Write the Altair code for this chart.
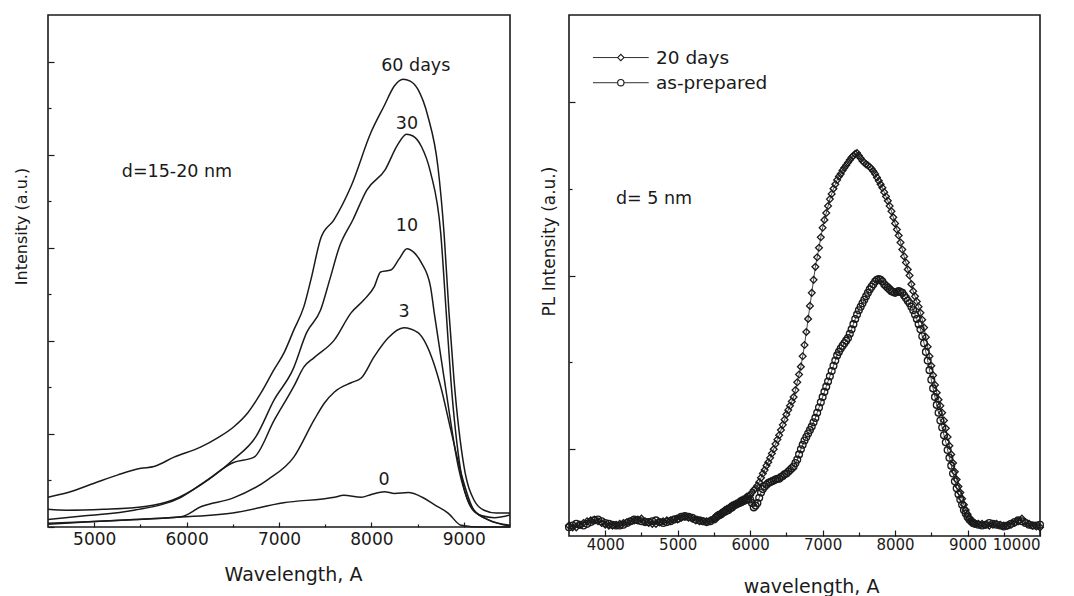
import altair as alt
import pandas as pd

# ---------------- Left panel (d = 15-20 nm) ----------------
d60_wl = [4500, 4716, 5000, 5258, 5506, 5647, 5864, 6156, 6340, 6515, 6665, 6805, 6946, 7054, 7162, 7270, 7346,
          7455, 7595, 7780, 7996, 8136, 8250, 8342, 8420, 8504, 8612, 8720, 8786, 8840, 8894, 9002, 9110, 9219, 9350, 9500]
d60_val = [0.32, 0.37, 0.47, 0.56, 0.63, 0.65, 0.75, 0.86, 0.96, 1.08, 1.23, 1.44, 1.69, 1.87, 2.12, 2.37, 2.66,
           3.11, 3.30, 3.66, 4.24, 4.52, 4.74, 4.81, 4.79, 4.70, 4.41, 3.87, 3.16, 2.30, 1.58, 0.65, 0.29, 0.18, 0.15, 0.15]

d30_wl = [4500, 4700, 5100, 5550, 5850, 6150, 6500, 6750, 6950, 7150, 7300, 7450, 7550, 7650, 7800, 7950, 8150,
          8280, 8380, 8450, 8540, 8640, 8750, 8810, 8860, 8970, 9100, 9200, 9330, 9500]
d30_val = [0.19, 0.18, 0.19, 0.22, 0.29, 0.45, 0.72, 0.97, 1.37, 1.69, 2.09, 2.33, 2.66, 3.00, 3.30, 3.62, 3.84,
           4.10, 4.22, 4.20, 4.09, 3.81, 3.16, 2.30, 1.58, 0.58, 0.18, 0.12, 0.10, 0.13]

d10_wl = [4500, 4900, 5430, 5940, 6230, 6500, 6730, 6950, 7160, 7270, 7380, 7600, 7780, 7920, 8030, 8100, 8210,
          8300, 8385, 8460, 8540, 8640, 8680, 8790, 8940, 9080, 9260, 9500]
d10_val = [0.08, 0.12, 0.18, 0.32, 0.51, 0.69, 0.75, 1.15, 1.51, 1.72, 1.82, 2.01, 2.30, 2.44, 2.58, 2.74, 2.76,
           2.88, 2.99, 2.95, 2.84, 2.58, 2.30, 1.58, 0.65, 0.22, 0.08, 0.02]

d3_wl = [4500, 5000, 5430, 5940, 6160, 6500, 6880, 7160, 7380, 7490, 7600, 7780, 7890, 8030, 8180, 8350, 8500,
         8650, 8750, 8860, 8970, 9110, 9260, 9500]
d3_val = [0.03, 0.06, 0.08, 0.11, 0.22, 0.31, 0.51, 0.75, 1.15, 1.33, 1.45, 1.55, 1.60, 1.83, 2.03, 2.14, 2.09,
          1.83, 1.51, 1.04, 0.58, 0.18, 0.08, 0.01]

d0_wl = [4500, 5000, 5800, 6500, 7050, 7600, 7700, 7890, 8000, 8140, 8250, 8400, 8550, 8680, 8830, 8970, 9200, 9500]
d0_val = [0.04, 0.06, 0.10, 0.15, 0.26, 0.32, 0.34, 0.32, 0.35, 0.38, 0.36, 0.37, 0.32, 0.24, 0.15, 0.02, 0.0, 0.0]

left_series = [("60 days", d60_wl, d60_val), ("30", d30_wl, d30_val), ("10", d10_wl, d10_val),
               ("3", d3_wl, d3_val), ("0", d0_wl, d0_val)]

left_labels = ["60 days", "30", "10", "3", "0", "d=15-20 nm"]
left_label_wl = [8480, 8385, 8385, 8353, 8136, 5896]
left_label_val = [4.95, 4.33, 3.23, 2.31, 0.51, 3.81]

# ---------------- Right panel (d = 5 nm) ----------------
wl_flat_left = list(range(3500, 5500, 50))
wl_active = list(range(5500, 9100, 25))
wl_flat_right = list(range(9100, 10001, 50))

days20_flat_left = [0.12, 0.10, 0.10, 0.13, 0.15, 0.17, 0.18, 0.19, 0.17, 0.15, 0.13, 0.12, 0.12, 0.13, 0.14, 0.15,
                    0.16, 0.17, 0.18, 0.19, 0.20, 0.17, 0.15, 0.14, 0.14, 0.16, 0.17, 0.18, 0.18, 0.19, 0.19, 0.21,
                    0.22, 0.21, 0.20, 0.18, 0.17, 0.17, 0.17, 0.18]
days20_active = [
    0.20, 0.22, 0.24, 0.25,  0.26, 0.28, 0.30, 0.31,  0.32, 0.34, 0.35, 0.36,  0.37, 0.38, 0.40, 0.41,
    0.42, 0.43, 0.45, 0.46,  0.47, 0.50, 0.53, 0.55,  0.58, 0.62, 0.67, 0.72,  0.76, 0.81, 0.85, 0.90,
    0.95, 1.00, 1.06, 1.11,  1.16, 1.22, 1.28, 1.34,  1.40, 1.45, 1.50, 1.55,  1.60, 1.68, 1.77, 1.86,
    1.95, 2.07, 2.20, 2.35,  2.50, 2.65, 2.80, 2.95,  3.10, 3.21, 3.32, 3.44,  3.55, 3.64, 3.72, 3.80,
    3.88, 3.94, 4.00, 4.05,  4.10, 4.14, 4.17, 4.21,  4.24, 4.27, 4.30, 4.33,  4.36, 4.38, 4.40, 4.41,
    4.38, 4.35, 4.32, 4.30,  4.28, 4.27, 4.25, 4.23,  4.20, 4.17, 4.13, 4.09,  4.05, 4.01, 3.96, 3.91,
    3.86, 3.80, 3.74, 3.67,  3.60, 3.53, 3.46, 3.38,  3.30, 3.22, 3.15, 3.07,  3.00, 2.90, 2.82, 2.76,
    2.70, 2.64, 2.57, 2.49,  2.40, 2.29, 2.18, 2.07,  1.96, 1.85, 1.74, 1.65,  1.57, 1.50, 1.42, 1.33,
    1.24, 1.14, 1.04, 0.94,  0.84, 0.74, 0.65, 0.57,  0.50, 0.43, 0.36, 0.30,  0.25, 0.21, 0.18, 0.16]
days20_flat_right = [0.15, 0.14, 0.14, 0.13, 0.12, 0.13, 0.14, 0.13, 0.12, 0.12, 0.13, 0.15, 0.17, 0.20, 0.16,
                     0.14, 0.12, 0.11, 0.10]

prep_flat_left = [0.10, 0.12, 0.14, 0.13, 0.12, 0.14, 0.16, 0.18, 0.19, 0.17, 0.15, 0.14, 0.13, 0.12, 0.12, 0.13,
                  0.15, 0.17, 0.19, 0.18, 0.17, 0.16, 0.16, 0.17, 0.18, 0.16, 0.15, 0.16, 0.17, 0.19, 0.20, 0.22,
                  0.23, 0.22, 0.21, 0.19, 0.18, 0.17, 0.16, 0.17]
prep_active = [
    0.19, 0.21, 0.23, 0.24,  0.25, 0.27, 0.28, 0.29,  0.30, 0.32, 0.33, 0.35,  0.36, 0.37, 0.38, 0.39,
    0.40, 0.41, 0.42, 0.42,  0.42, 0.38, 0.33, 0.35,  0.38, 0.44, 0.50, 0.54,  0.57, 0.59, 0.61, 0.62,
    0.63, 0.64, 0.65, 0.66,  0.66, 0.68, 0.69, 0.71,  0.72, 0.74, 0.76, 0.78,  0.80, 0.84, 0.88, 0.94,
    1.00, 1.05, 1.10, 1.14,  1.18, 1.22, 1.26, 1.31,  1.36, 1.42, 1.48, 1.54,  1.60, 1.66, 1.72, 1.78,
    1.84, 1.90, 1.96, 2.02,  2.08, 2.12, 2.16, 2.19,  2.22, 2.25, 2.28, 2.33,  2.38, 2.44, 2.50, 2.55,
    2.60, 2.64, 2.68, 2.72,  2.76, 2.80, 2.84, 2.87,  2.90, 2.93, 2.95, 2.96,  2.95, 2.93, 2.90, 2.88,
    2.86, 2.84, 2.82, 2.81,  2.80, 2.81, 2.82, 2.81,  2.80, 2.77, 2.74, 2.71,  2.68, 2.64, 2.60, 2.55,
    2.50, 2.44, 2.38, 2.30,  2.22, 2.12, 2.02, 1.91,  1.80, 1.70, 1.60, 1.51,  1.42, 1.33, 1.25, 1.16,
    1.08, 0.99, 0.90, 0.81,  0.72, 0.63, 0.55, 0.48,  0.42, 0.36, 0.30, 0.26,  0.22, 0.19, 0.17, 0.15]
prep_flat_right = [0.14, 0.13, 0.12, 0.13, 0.15, 0.14, 0.13, 0.12, 0.11, 0.12, 0.14, 0.16, 0.18, 0.17, 0.15,
                   0.13, 0.12, 0.12, 0.13]

legend_labels = ["20 days", "as-prepared"]
legend_shapes = ["diamond", "circle"]
right_note = ["d= 5 nm"]

# ---------------- Build tables ----------------
rows = []
for name, wls, vals in left_series:
    for w, v in zip(wls, vals):
        rows.append({"wl": w, "val": v, "series": name})
df_left = pd.DataFrame(rows)
df_left_lab = pd.DataFrame({"wl": left_label_wl, "val": left_label_val, "label": left_labels})

wl_right = wl_flat_left + wl_active + wl_flat_right
df_right = pd.concat([
    pd.DataFrame({"wl": wl_right, "val": days20_flat_left + days20_active + days20_flat_right, "series": "20 days"}),
    pd.DataFrame({"wl": wl_right, "val": prep_flat_left + prep_active + prep_flat_right, "series": "as-prepared"}),
])

# legend / note placement (layout, in data units)
df_leg = pd.DataFrame({
    "label": legend_labels, "shape": legend_shapes,
    "x1": [3830, 3830], "x2": [4600, 4600], "xm": [4215, 4215], "xt": [4700, 4700], "y": [5.51, 5.22]})
df_note = pd.DataFrame({"label": right_note, "wl": [4673], "val": [3.88]})

INK = "#1a1a1a"
FONT = "DejaVu Sans"

# ---------------- Left chart ----------------
xsL = alt.Scale(domain=[4500, 9500], nice=False, zero=False)
ysL = alt.Scale(domain=[0, 5.5], nice=False, zero=False)

axLx = alt.Axis(orient="bottom", values=[5000, 6000, 7000, 8000, 9000], format="d", tickSize=5, offset=-5,
                labelPadding=4, labelFontSize=17, title="Wavelength, A", titleFontSize=19,
                titleX=245, titleY=52, titleBaseline="middle", titleFontWeight="normal", grid=False)
axLx_minor = alt.Axis(orient="bottom", values=[5500, 6500, 7500, 8500], tickSize=3, offset=-3,
                      labels=False, title=None, grid=False)
axLy = alt.Axis(orient="left", values=[0, 1, 2, 3, 4, 5], tickSize=6, offset=-6, labels=False,
                title="Intensity (a.u.)", titleFontSize=16, titleX=-33, titleY=211,
                titleBaseline="middle", titleFontWeight="normal", grid=False)
axLy_minor = alt.Axis(orient="left", values=[0.5, 1.5, 2.5, 3.5, 4.5], tickSize=3, offset=-3,
                      labels=False, title=None, grid=False)

left_lines = alt.Chart(df_left).mark_line(color=INK, strokeWidth=1.5, interpolate="monotone").encode(
    x=alt.X("wl:Q", scale=xsL, axis=axLx),
    y=alt.Y("val:Q", scale=ysL, axis=axLy),
    detail="series:N",
)
left_text = alt.Chart(df_left_lab).mark_text(fontSize=17.5, font=FONT, color=INK, align="center",
                                              baseline="middle").encode(
    x=alt.X("wl:Q", scale=xsL, axis=axLx_minor),
    y=alt.Y("val:Q", scale=ysL, axis=axLy_minor),
    text="label:N",
)
left = alt.layer(left_lines, left_text).resolve_axis(x="independent", y="independent").properties(
    width=462, height=512)

# ---------------- Right chart ----------------
xsR = alt.Scale(domain=[3500, 10000], nice=False, zero=False)
ysR = alt.Scale(domain=[0, 6], nice=False, zero=False)

axRx = alt.Axis(orient="bottom", values=[4000, 5000, 6000, 7000, 8000, 9000, 10000], format="d", tickSize=6,
                offset=-6, labelPadding=1, labelFontSize=15, title="wavelength, A", titleFontSize=19,
                titleX=242, titleY=56, titleBaseline="middle", titleFontWeight="normal", grid=False)
axRx_minor = alt.Axis(orient="bottom", values=[4500, 5500, 6500, 7500, 8500, 9500], tickSize=4, offset=-4,
                      labels=False, title=None, grid=False)
axRy = alt.Axis(orient="left", values=[1, 3, 5], tickSize=6, offset=-6, labels=False,
                title="PL Intensity (a.u.)", titleFontSize=17, titleX=-26, titleY=226,
                titleBaseline="middle", titleFontWeight="normal", grid=False)
axRy_minor = alt.Axis(orient="left", values=[2, 4], tickSize=3, offset=-3, labels=False, title=None, grid=False)

shape_scale = alt.Scale(domain=legend_labels, range=legend_shapes)

right_line = alt.Chart(df_right).mark_line(color=INK, strokeWidth=0.8).encode(
    x=alt.X("wl:Q", scale=xsR, axis=axRx),
    y=alt.Y("val:Q", scale=ysR, axis=axRy),
    detail="series:N",
)
right_pts = alt.Chart(df_right).mark_point(filled=False, size=46, strokeWidth=1.3, color=INK, opacity=1).encode(
    x=alt.X("wl:Q", scale=xsR, axis=None),
    y=alt.Y("val:Q", scale=ysR, axis=None),
    shape=alt.Shape("series:N", scale=shape_scale, legend=None),
)
leg_rule = alt.Chart(df_leg).mark_rule(color=INK, strokeWidth=0.9).encode(
    x=alt.X("x1:Q", scale=xsR, axis=None), x2="x2:Q", y=alt.Y("y:Q", scale=ysR, axis=None))
leg_pt = alt.Chart(df_leg).mark_point(filled=True, fill="white", stroke=INK, size=40, strokeWidth=1.1,
                                      opacity=1).encode(
    x=alt.X("xm:Q", scale=xsR, axis=None), y=alt.Y("y:Q", scale=ysR, axis=None),
    shape=alt.Shape("label:N", scale=shape_scale, legend=None))
leg_txt = alt.Chart(df_leg).mark_text(fontSize=18.5, font=FONT, color=INK, align="left",
                                      baseline="middle").encode(
    x=alt.X("xt:Q", scale=xsR, axis=axRx_minor), y=alt.Y("y:Q", scale=ysR, axis=axRy_minor), text="label:N")
note_txt = alt.Chart(df_note).mark_text(fontSize=17.5, font=FONT, color=INK, align="center",
                                        baseline="middle").encode(
    x=alt.X("wl:Q", scale=xsR, axis=None), y=alt.Y("val:Q", scale=ysR, axis=None), text="label:N")

right = alt.layer(right_line, right_pts, leg_rule, leg_pt, leg_txt, note_txt).resolve_axis(
    x="independent", y="independent").properties(width=471, height=521)

chart = alt.hconcat(left, right, spacing=25).properties(
    padding={"left": 12, "top": 14, "right": 0, "bottom": 0},
    background="white",
).configure_view(stroke=INK, strokeWidth=1.6).configure_axis(
    domain=False, tickColor=INK, tickWidth=1.2, labelColor=INK, titleColor=INK,
    labelFont=FONT, titleFont=FONT,
)

chart.save("out.html", embed_options={"renderer": "svg", "actions": False})
